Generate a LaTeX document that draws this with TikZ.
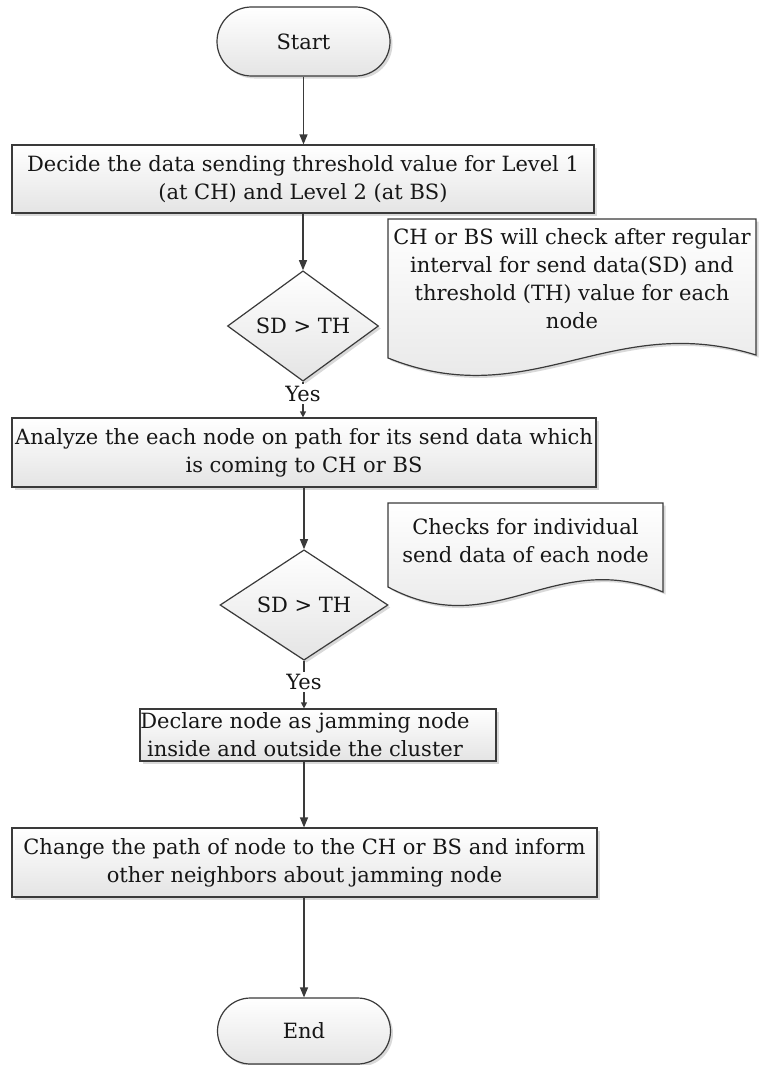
\documentclass[tikz,border=0pt]{standalone}
\usepackage{fontspec}
\setmainfont{DejaVu Serif}
\usetikzlibrary{shapes.geometric,shapes.misc,shadows,arrows.meta}

\definecolor{ink}{HTML}{3A3A3A}
\definecolor{fillbot}{HTML}{E4E4E4}
\definecolor{txt}{HTML}{161616}

\begin{document}
\begin{tikzpicture}[x=1pt,y=-1pt,
  every node/.style={font=\fontsize{21}{28}\selectfont, text=txt},
  shapebase/.style={draw=ink, line width=1.2pt, top color=white, bottom color=fillbot,
    drop shadow={shadow xshift=2.5pt, shadow yshift=-2.5pt, opacity=0.3, fill=gray}},
  terminal/.style={shapebase, rounded rectangle, minimum width=173pt, minimum height=69pt, inner sep=0pt},
  process/.style={shapebase, rectangle, align=center, inner sep=0pt},
  decision/.style={shapebase, diamond, inner sep=0pt},
  note/.style={shapebase},
  notetext/.style={align=center, inner sep=0pt},
  yeslabel/.style={inner sep=2pt},
  flow/.style={draw=ink, line width=1.2pt, -{Triangle[length=10pt,width=8pt]}},
  shortflow/.style={draw=ink, line width=1.2pt, -{Triangle[length=6pt,width=6pt]}},
  plain/.style={draw=ink, line width=1.2pt}]

\useasboundingbox (0,0) rectangle (758,1065);

% terminals
\node[terminal] (start) at (303.5,41.5) {Start};
\node[terminal, minimum height=66pt] (end) at (304,1031) {End};

% process steps
\node[process, minimum width=582pt, minimum height=68pt] (box1) at (303,179)
  {Decide the data sending threshold value for Level 1\\(at CH) and Level 2 (at BS)};
\node[process, minimum width=584pt, minimum height=69pt] (box2) at (304,452.5)
  {Analyze the each node on path for its send data which\\is coming to CH or BS};
\node[process, minimum width=356pt, minimum height=52pt] (box3) at (318,735) {};
\node[notetext] (box3text) at (305,735)
  {Declare node as jamming node\\inside and outside the cluster};
\node[process, minimum width=585pt, minimum height=69pt] (box4) at (304.5,862.5)
  {Change the path of node to the CH or BS and inform\\other neighbors about jamming node};

% decisions
\node[decision, minimum width=151pt, minimum height=90pt] (dec1) at (303,326) {SD > TH};
\node[decision, minimum width=168pt, minimum height=104pt] (dec2) at (304,605) {SD > TH};
\node[yeslabel] (yes1) at (303,394) {Yes};
\node[yeslabel] (yes2) at (304,682) {Yes};

% annotation (document) shapes
\path[note] (388,219) -- (756,219) -- (756,355)
  .. controls (610,310) and (530,415) .. (388,358) -- cycle;
\node[notetext] (doc1) at (572,279)
  {CH or BS will check after regular\\interval for send data(SD) and\\threshold (TH) value for each\\node};
\path[note] (388,503) -- (663,503) -- (663,592)
  .. controls (553,547) and (495,644) .. (388,587) -- cycle;
\node[notetext] (doc2) at (525.5,541)
  {Checks for individual\\send data of each node};

% connectors
\draw[flow] (start.south) -- (start.south |- box1.north);
\draw[flow] (box1.south -| dec1.north) -- (dec1.north);
\draw[plain] (dec1.south) -- (yes1.north);
\draw[shortflow] (yes1.south) -- (yes1.south |- box2.north);
\draw[flow] (box2.south -| dec2.north) -- (dec2.north);
\draw[plain] (dec2.south) -- (yes2.north);
\draw[shortflow] (yes2.south) -- (yes2.south |- box3.north);
\draw[flow] (box3.south -| yes2.south) -- (yes2.south |- box4.north);
\draw[flow] (box4.south -| end.north) -- (end.north);

\end{tikzpicture}
\end{document}
